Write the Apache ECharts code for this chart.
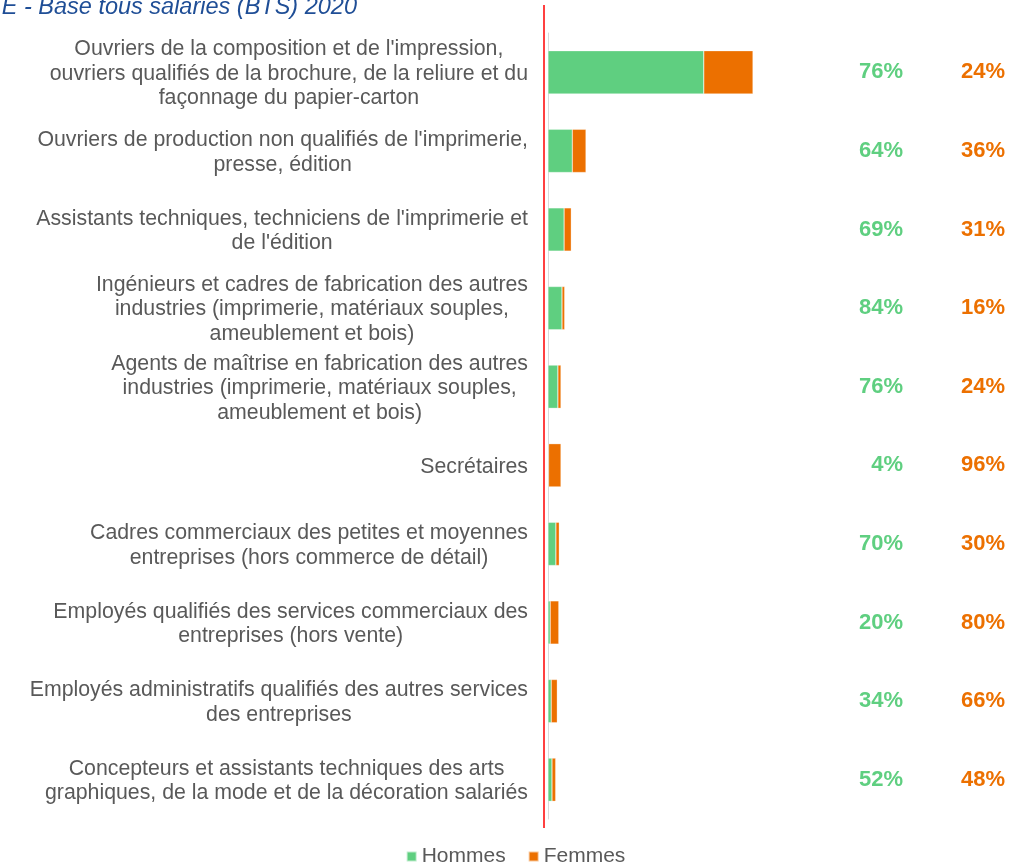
<!DOCTYPE html>
<html>
<head>
<meta charset="utf-8">
<title>Base tous salariés (BTS) 2020</title>
<script src="https://cdn.jsdelivr.net/npm/echarts@6/dist/echarts.min.js"></script>
<style>
  html, body { margin: 0; padding: 0; background: #fff; }
  #chart { width: 1031px; height: 863px; }
</style>
</head>
<body>
<div id="chart"></div>
<script>
// Categories, top to bottom
var categories = [
  "Ouvriers de la composition et de l'impression,\nouvriers qualifiés de la brochure, de la reliure et du\nfaçonnage du papier-carton",
  "Ouvriers de production non qualifiés de l'imprimerie,\npresse, édition",
  "Assistants techniques, techniciens de l'imprimerie et\nde l'édition",
  "Ingénieurs et cadres de fabrication des autres\nindustries (imprimerie, matériaux souples,\nameublement et bois)",
  "Agents de maîtrise en fabrication des autres\nindustries (imprimerie, matériaux souples,\nameublement et bois)",
  "Secrétaires",
  "Cadres commerciaux des petites et moyennes\nentreprises (hors commerce de détail)",
  "Employés qualifiés des services commerciaux des\nentreprises (hors vente)",
  "Employés administratifs qualifiés des autres services\ndes entreprises",
  "Concepteurs et assistants techniques des arts\ngraphiques, de la mode et de la décoration salariés"
];

// Effectifs
var hommes = [15580, 2430, 1610, 1400, 990, 50, 790, 220, 320, 400];
var femmes = [4920, 1370, 720, 270, 310, 1250, 340, 860, 610, 370];

// Shares shown on the right
var pctHommes = [76, 64, 69, 84, 76, 4, 70, 20, 34, 52];
var pctFemmes = [24, 36, 31, 16, 24, 96, 30, 80, 66, 48];

var GREEN = '#5FCF80';
var ORANGE = '#EC7000';
var GREY = '#595959';

var chart = echarts.init(document.getElementById('chart'), null, {renderer: 'canvas'});

// Right hand percentage column, one axis per series
function pctAxis(values, color, margin) {
  return {
    type: 'category',
    data: categories,
    inverse: true,
    position: 'right',
    axisLine: {show: false},
    axisTick: {show: false},
    axisLabel: {
      inside: true,
      margin: margin,
      color: color,
      fontFamily: 'Liberation Sans, Arial, sans-serif',
      fontSize: 22,
      fontWeight: 'bold',
      padding: [3, 0, 0, 0],
      formatter: function (v, i) {
        return values[i] + '%';
      }
    }
  };
}

var option = {
  animation: false,
  backgroundColor: '#fff',
  textStyle: {fontFamily: 'Liberation Sans, Arial, sans-serif'},
  graphic: [
    {
      type: 'text',
      x: 357,
      y: 19,
      style: {
        text: 'E - Base tous salariés (BTS) 2020',
        fill: '#1F4E96',
        font: 'italic 23.5px "Liberation Sans", Arial, sans-serif',
        textAlign: 'right',
        textVerticalAlign: 'bottom'
      }
    },
    {
      type: 'line',
      shape: {x1: 544, y1: 5, x2: 544, y2: 828},
      style: {stroke: '#FF0000', lineWidth: 1.5},
      z: 100
    }
  ],
  grid: {
    left: 548,
    right: 26,
    top: 33,
    bottom: 44
  },
  legend: {
    top: 841,
    left: 'center',
    icon: 'rect',
    itemWidth: 10,
    itemHeight: 10,
    itemGap: 22,
    textStyle: {color: GREY, fontSize: 21},
    data: ['Hommes', 'Femmes']
  },
  xAxis: {
    type: 'value',
    min: 0,
    max: 45700,
    show: false
  },
  yAxis: [
    {
      type: 'category',
      data: categories,
      inverse: true,
      axisLine: {show: true, lineStyle: {color: '#D9D9D9', width: 1}},
      axisTick: {show: false},
      axisLabel: {
        margin: 20,
        color: GREY,
        fontSize: 21.3,
        lineHeight: 24.5,
        padding: [3, 0, 0, 0],
        formatter: function (v) {
          return v.split('\n').map(function (line) {
            return '{c|' + line + '}';
          }).join('\n');
        },
        rich: {
          c: {align: 'center', color: GREY, fontSize: 21.3, lineHeight: 24.5}
        }
      }
    },
    pctAxis(pctFemmes, ORANGE, 0),
    pctAxis(pctHommes, GREEN, 102)
  ],
  series: [
    {
      name: 'Hommes',
      type: 'bar',
      stack: 'total',
      barWidth: '55%',
      itemStyle: {color: GREEN, borderColor: 'rgba(255,255,255,0.6)', borderWidth: 0.5},
      data: hommes
    },
    {
      name: 'Femmes',
      type: 'bar',
      stack: 'total',
      barWidth: '55%',
      itemStyle: {color: ORANGE, borderColor: 'rgba(255,255,255,0.6)', borderWidth: 0.5},
      data: femmes
    }
  ]
};

chart.setOption(option);
</script>
</body>
</html>
